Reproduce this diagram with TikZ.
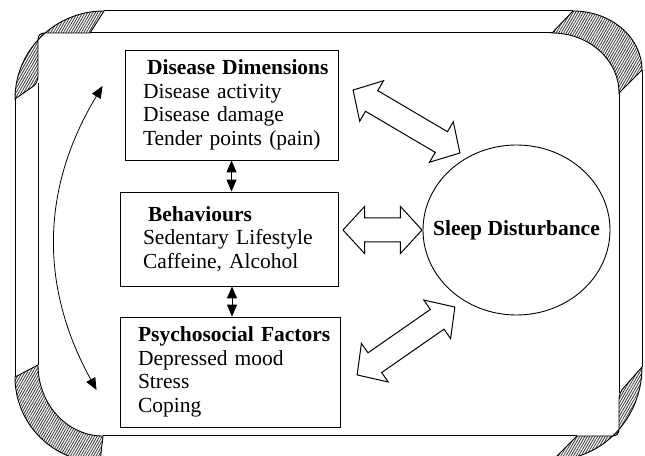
\documentclass[tikz,border=0pt]{standalone}
\usepackage{fontspec}
\setmainfont{Liberation Serif}
\usetikzlibrary{calc,positioning,shapes.arrows,shapes.geometric,arrows.meta,patterns.meta}
\tikzstyle{every node}+=[font=\fontsize{21.5}{23.5}\selectfont]
\tikzstyle{box}=[draw,rectangle,align=left,inner xsep=18pt,inner ysep=0pt,line width=0.9pt]
\tikzstyle{fat}=[draw,double arrow,double arrow head extend=11.5pt,double arrow tip angle=95,inner xsep=0pt,inner ysep=11.5pt,line width=1pt]
\tikzstyle{link}=[{Triangle[width=10pt,length=12pt]}-{Triangle[width=10pt,length=12pt]},line width=1pt]
\tikzstyle{hatch}=[line width=0.9pt,pattern={Lines[angle=60,distance=2.2pt,line width=0.8pt]},pattern color=black!80]

\begin{document}
\begin{tikzpicture}[x=1pt,y=1pt]
\useasboundingbox (0,0) rectangle (645,455);

% frame: straight parts
\draw[line width=1pt] (104,444) -- (573,444) (90,422) -- (552,422)
	(15,356) -- (15,78) (38,372) -- (38,90)
	(642,385) -- (642,88) (619,362) -- (619,62)
	(103,19) -- (577,19);
% frame: shaded corners
\draw[hatch] (15,356) arc[start angle=180,end angle=90,x radius=89pt,y radius=88pt]
	-- (90,422) [rounded corners=6pt] -- (38,422) -- (38,372) [sharp corners] -- cycle;
\draw[hatch] (573,444) arc[start angle=90,end angle=0,x radius=69pt,y radius=59pt]
	-- (619,362) arc[start angle=0,end angle=90,x radius=67pt,y radius=60pt] -- cycle;
\draw[hatch] (15,78) arc[start angle=180,end angle=270,x radius=85pt,y radius=85pt]
	-- (103,19) arc[start angle=270,end angle=180,x radius=65pt,y radius=71pt] -- cycle;
\draw[hatch] (642,88) arc[start angle=0,end angle=-90,x radius=89pt,y radius=93pt]
	-- (577,19) [rounded corners=6pt] -- (619,19) -- (619,62) [sharp corners] -- cycle;

% the three boxes
\node[box,minimum height=110pt,text width=177pt] (dd) at (231.5,350)
	{\hspace*{4pt}\mbox{\textbf{Disease Dimensions}}\\Disease activity\\Disease damage\\\mbox{Tender points (pain)}};
\node[box,minimum height=94pt,inner xsep=23pt,text width=172pt] (bh) at (229,216)
	{\hspace*{5pt}\textbf{Behaviours}\\\mbox{Sedentary Lifestyle}\\\mbox{Caffeine, Alcohol}};
\node[box,minimum height=110pt,text width=184pt] (pf) at (230,83)
	{\mbox{\textbf{Psychosocial Factors}}\\Depressed mood\\Stress\\Coping};

\node[draw,ellipse,minimum width=187pt,minimum height=170pt,inner sep=0pt,line width=0.9pt,font=\fontsize{21.5}{23.5}\selectfont\bfseries] (ss) at (516.5,225) {\makebox[0pt]{Sleep Disturbance}};

% big hollow arrows
\node[fat,minimum height=124pt,rotate=-30.5] (a1) at (406.5,333.5) {};
\node[fat,minimum height=79pt] (a2) at (382.5,225) {};
\node[fat,minimum height=119pt,rotate=34.8] (a3) at (406,114) {};

% small arrows and the curved one
\draw[link] (dd.south) -- (dd.south |- bh.north);
\draw[link] ([xshift=3pt]bh.south) -- ([xshift=3pt]bh.south |- pf.north);
\coordinate (ct) at ($(dd.west)+(-22,19)$);
\coordinate (cb) at ($(pf.west)+(-23,-18)$);
\draw[link,line width=0.8pt] (ct) to[bend right=30] (cb);
\end{tikzpicture}
\end{document}
